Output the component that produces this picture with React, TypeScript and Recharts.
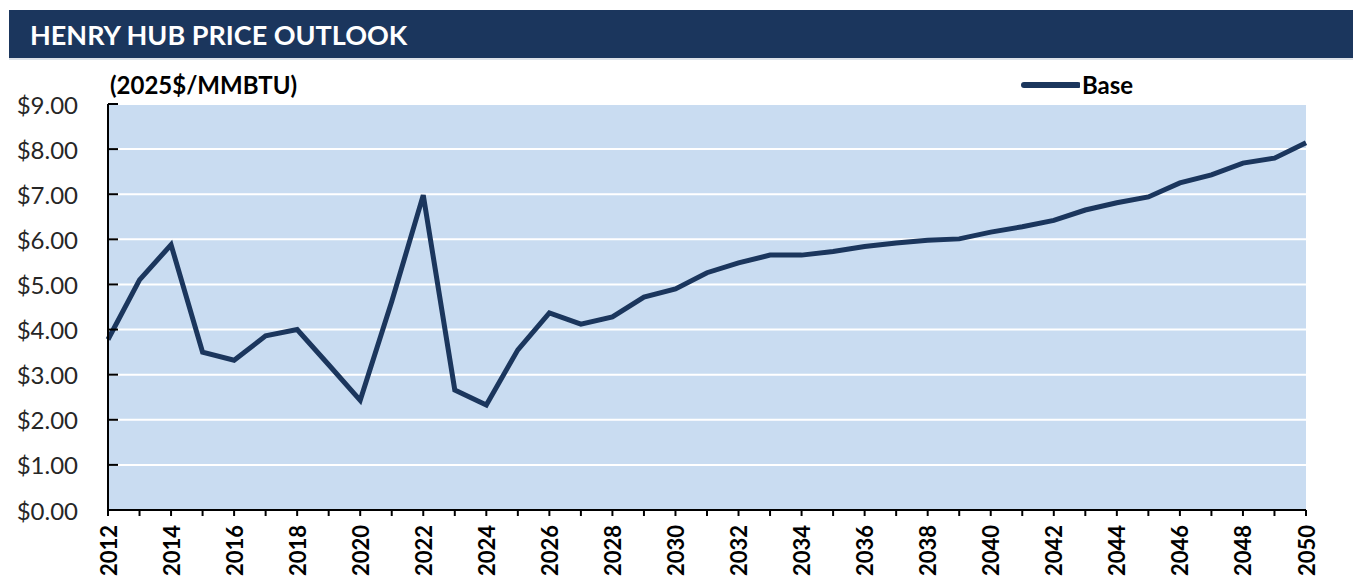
import React from "react";
import { LineChart, Line, XAxis, YAxis, CartesianGrid } from "recharts";

const years = [
  2012, 2013, 2014, 2015, 2016, 2017, 2018, 2019, 2020, 2021, 2022, 2023, 2024,
  2025, 2026, 2027, 2028, 2029, 2030, 2031, 2032, 2033, 2034, 2035, 2036, 2037,
  2038, 2039, 2040, 2041, 2042, 2043, 2044, 2045, 2046, 2047, 2048, 2049, 2050,
];

const basePrices = [
  3.78, 5.1, 5.88, 3.5, 3.32, 3.86, 4.0, 3.22, 2.43, 4.62, 6.98, 2.66, 2.33,
  3.55, 4.37, 4.12, 4.28, 4.72, 4.9, 5.26, 5.48, 5.65, 5.65, 5.73, 5.84, 5.92,
  5.98, 6.01, 6.16, 6.28, 6.42, 6.65, 6.81, 6.94, 7.25, 7.43, 7.69, 7.8, 8.14,
];

const priceTicks = [0, 1, 2, 3, 4, 5, 6, 7, 8, 9];

const NAVY = "#1B365D";
const FONT = "Lato, 'Liberation Sans', sans-serif";

const data = years.map((year, i) => ({ year, base: basePrices[i] }));

// every year gets a tick mark, only even years get a label
const YearTick = (props: any) => {
  const { x, y, payload } = props;
  if (payload.value % 2 !== 0) return null;
  return (
    <text
      x={x}
      y={y + 7}
      transform={`rotate(-90, ${x}, ${y + 7})`}
      textAnchor="end"
      dominantBaseline="central"
      fill="#000"
      fontSize={22}
      fontWeight={700}
      fontFamily={FONT}
    >
      {payload.value}
    </text>
  );
};

// y ticks point into the plot, labels sit well left of the axis
const PriceTick = (props: any) => {
  const { x, y, payload } = props;
  return (
    <g>
      <line x1={x + 30} y1={y} x2={x + 40} y2={y} stroke="#000" strokeWidth={2} />
      <text
        x={x}
        y={y}
        textAnchor="end"
        dominantBaseline="central"
        fill="#262626"
        fontSize={24}
        fontFamily={FONT}
      >
        {`$${payload.value.toFixed(2)}`}
      </text>
    </g>
  );
};

export default function App() {
  return (
    <div style={{ position: "absolute", left: 0, top: 0, width: 1353, height: 580, background: "#fff", overflow: "hidden" }}>
      <div
        style={{
          position: "absolute",
          left: 9,
          top: 10,
          width: 1344,
          height: 50,
          background: NAVY,
          borderBottom: "2px solid #DDE2E8",
          color: "#fff",
          fontFamily: FONT,
          fontWeight: 700,
          fontSize: 27,
          lineHeight: "50px",
          paddingLeft: 21,
          boxSizing: "border-box",
        }}
      >
        HENRY HUB PRICE OUTLOOK
      </div>
      <div
        style={{
          position: "absolute",
          left: 110,
          top: 70,
          fontFamily: FONT,
          fontWeight: 700,
          fontSize: 24,
          color: "#000",
        }}
      >
        (2025$/MMBTU)
      </div>
      <div
        style={{
          position: "absolute",
          left: 1020,
          top: 70,
          display: "flex",
          alignItems: "center",
          fontFamily: FONT,
        }}
      >
        <svg width={60} height={10}>
          <line x1={4} y1={5} x2={58} y2={5} stroke={NAVY} strokeWidth={6} strokeLinecap="round" />
        </svg>
        <span style={{ fontWeight: 700, fontSize: 24, color: "#000", marginLeft: 2 }}>Base</span>
      </div>
      <div style={{ position: "absolute", left: 0, top: 0 }}>
        <LineChart width={1353} height={580} data={data} margin={{ top: 104, right: 47, bottom: 0, left: 0 }}>
          <CartesianGrid vertical={false} horizontal stroke="#fff" strokeWidth={2} fill="#C9DCF1" />
          <XAxis
            dataKey="year"
            type="number"
            domain={[2012, 2050]}
            ticks={years}
            interval={0}
            height={70}
            axisLine={{ stroke: "#000", strokeWidth: 2 }}
            tickLine={{ stroke: "#000", strokeWidth: 2 }}
            tickSize={6}
            tick={<YearTick />}
          />
          <YAxis
            domain={[0, 9]}
            ticks={priceTicks}
            interval={0}
            width={108}
            axisLine={{ stroke: "#000", strokeWidth: 2 }}
            tickLine={false}
            tickSize={0}
            tickMargin={30}
            tick={<PriceTick />}
          />
          <Line
            type="linear"
            dataKey="base"
            name="Base"
            stroke={NAVY}
            strokeWidth={5}
            dot={false}
            isAnimationActive={false}
          />
        </LineChart>
      </div>
    </div>
  );
}
